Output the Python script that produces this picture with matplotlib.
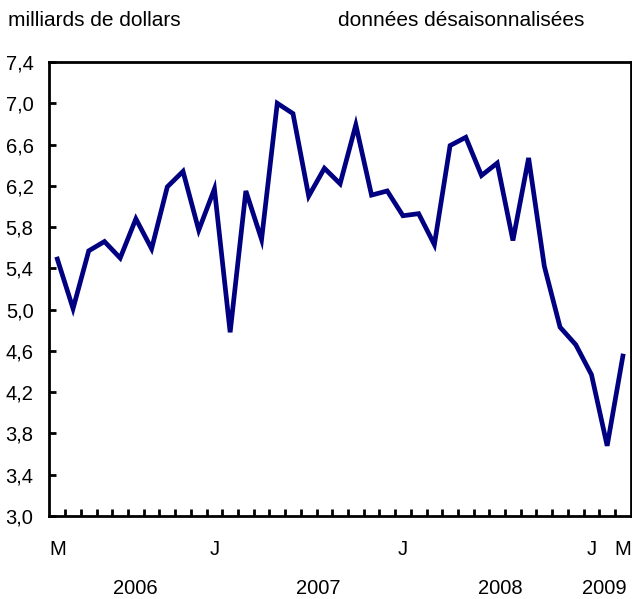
import numpy as np
import matplotlib
matplotlib.use("Agg")
import matplotlib.pyplot as plt
from matplotlib.ticker import FuncFormatter

plt.rcParams['font.family'] = ['Liberation Sans', 'DejaVu Sans']

# mars 2006 .. mars 2009, milliards de dollars
valeurs = [5.49, 5.01, 5.57, 5.66, 5.50, 5.88, 5.59, 6.19, 6.34, 5.77,
           6.17, 4.78, 6.15, 5.68, 7.00, 6.90, 6.10, 6.37, 6.22, 6.79,
           6.11, 6.15, 5.91, 5.93, 5.63, 6.59, 6.67, 6.30, 6.42, 5.67,
           6.47, 5.42, 4.83, 4.66, 4.37, 3.68, 4.55]
mois_pos = [0, 10, 22, 34, 36]
mois_lab = ["M", "J", "J", "J", "M"]
annees = ["2006", "2007", "2008", "2009"]
annees_pos = [4.97, 16.6, 28.19, 34.84]
y_ticks = [3.0, 3.4, 3.8, 4.2, 4.6, 5.0, 5.4, 5.8, 6.2, 6.6, 7.0, 7.4]

fig = plt.figure(figsize=(6.32, 5.99), dpi=100)
ax = fig.add_axes([0.0783, 0.1386, 0.9197, 0.7579])

x = np.arange(len(valeurs))
ax.plot(x, valeurs, color="#000080", lw=3.4, solid_joinstyle="miter")

ax.set_xlim(-0.5, len(valeurs) - 0.5)
ax.set_ylim(3.0, 7.4)
ax.set_yticks(y_ticks)
ax.yaxis.set_major_formatter(FuncFormatter(lambda v, p: f"{v:.1f}".replace(".", ",")))

ax.set_xticks(mois_pos)
ax.set_xticklabels(mois_lab)
ax.set_xticks(np.arange(0.5, len(valeurs) - 1, 1), minor=True)
ax.tick_params(axis="x", which="major", length=0, pad=17, labelsize=14.5)
ax.tick_params(axis="x", which="minor", direction="in", length=5, width=2)
ax.tick_params(axis="y", direction="in", length=5, width=2, pad=11.5, labelsize=14.5)

for s in ax.spines.values():
    s.set_linewidth(2)

for a, p in zip(annees, annees_pos):
    ax.text(p, -0.159, a, transform=ax.get_xaxis_transform(),
            ha="center", va="center", fontsize=14.5)

fig.text(8 / 632, 1 - 20 / 599, "milliards de dollars", ha="left", va="center", fontsize=15)
fig.text(338 / 632, 1 - 20 / 599, "données désaisonnalisées", ha="left", va="center", fontsize=15)

fig.savefig("out.png", dpi=100)
